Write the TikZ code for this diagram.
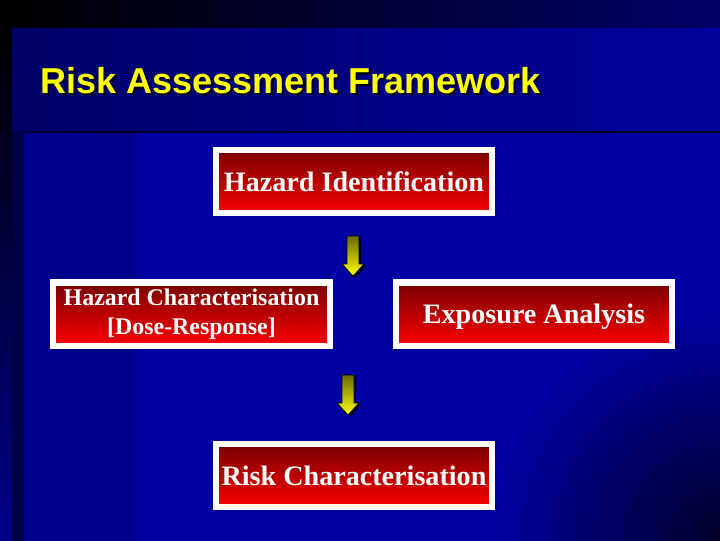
\documentclass[tikz,border=0pt]{standalone}
\usepackage{fontspec}
\setmainfont{Liberation Serif}
\newfontfamily\headfont{Liberation Sans}
\usetikzlibrary{calc,shadings}
\definecolor{boxdark}{RGB}{122,0,0}
\definecolor{boxred}{RGB}{250,0,0}
\definecolor{arrowtop}{RGB}{105,105,0}
\definecolor{arrowyellow}{RGB}{255,255,0}
\definecolor{navytop}{RGB}{0,0,105}
\definecolor{navyband}{RGB}{0,0,155}
\definecolor{navyleft}{RGB}{0,0,70}
\definecolor{navycol}{RGB}{0,0,140}
\definecolor{navymain}{RGB}{0,0,162}
\definecolor{navycorner}{RGB}{0,0,40}
\tikzset{
  downarrow/.pic={
    \fill[black] (-4,2) -- (8,2) -- (8,30) -- (13,30) -- (2,42) -- (-9,30) -- (-4,30) -- cycle;
    \shade[top color=arrowtop, bottom color=arrowyellow, draw=black, line width=0.5pt]
      (-6,0) -- (6,0) -- (6,28) -- (11,28) -- (0,40) -- (-11,28) -- (-6,28) -- cycle;
  }
}
\begin{document}
\begin{tikzpicture}[x=0.025cm,y=-0.025cm,
    stage/.style={draw=white, line width=0.15cm, top color=boxdark, bottom color=boxred,
      text=white, inner sep=0pt, align=center, minimum width=6.9cm, minimum height=1.575cm,
      font=\bfseries\fontsize{20}{22}\selectfont},
    heading/.style={anchor=base west, inner sep=0pt,
      font=\headfont\bfseries\fontsize{25.6}{30}\selectfont}]
  \useasboundingbox (0,0) rectangle (720,540);
  % background
  \fill[navycorner] (0,0) rectangle (725,545);
  \shade[left color=black, right color=navytop] (0,0) rectangle (725,28);
  \shade[top color=black, bottom color=navycol] (0,28) rectangle (12,545);
  \fill[navyleft] (12,28) rectangle (24,545);
  \shade[left color=navytop, right color=navyband] (12,28) rectangle (725,130);
  \fill[navycol] (24,133) rectangle (138,545);
  \begin{scope}
    \clip (138,133) rectangle (725,545);
    \fill[navymain] (138,133) rectangle (725,545);
    \shade[inner color=navycorner, outer color=navymain] (720,540) circle (230);
  \end{scope}
  % title
  \node[heading, text=black] (tshadow) at (42,95) {Risk Assessment Framework};
  \node[heading, text=arrowyellow] (title) at (40,93) {Risk Assessment Framework};
  % stages
  \node[stage] (hazid) at (354,181.5) {Hazard Identification};
  \node[stage, font=\bfseries\fontsize{17}{20.5}\selectfont] (hazchar) at (191.5,314)
    {Hazard Characterisation\\{}[Dose-Response]};
  \node[stage, text height=14pt, text depth=0pt] (expo) at (534,314) {Exposure Analysis};
  \node[stage] (riskchar) at (354,475.5) {Risk Characterisation};
  % arrows
  \pic at ($(hazid.south)+(-1,20)$) {downarrow};
  \pic at ($(riskchar.north)+(-6,-66)$) {downarrow};
\end{tikzpicture}
\end{document}
